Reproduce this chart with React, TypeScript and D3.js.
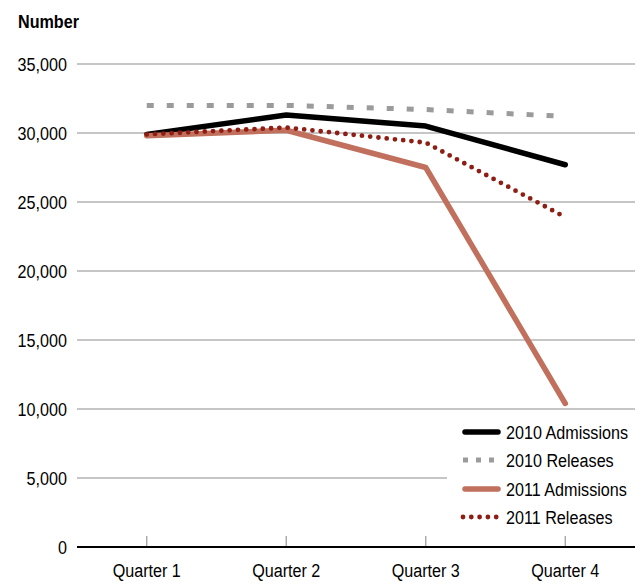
import React from "react";
import * as d3 from "d3";

const categories = ["Quarter 1", "Quarter 2", "Quarter 3", "Quarter 4"];
const admissions2010 = [29900, 31300, 30500, 27700];
const releases2010 = [32000, 32000, 31700, 31200];
const admissions2011 = [29800, 30200, 27500, 10400];
const releases2011 = [29900, 30400, 29300, 23900];
const yTicks = [0, 5000, 10000, 15000, 20000, 25000, 30000, 35000];

const W = 642;
const H = 584;
const FONT = "'Liberation Sans', Arial, sans-serif";
const SX = 0.85;

type Series = { name: string; values: number[]; color: string; width: number; dash?: string; legendDash?: string; cap: "butt" | "round" };

const series: Series[] = [
  { name: "2010 Admissions", values: admissions2010, color: "#000000", width: 5.5, cap: "round" },
  { name: "2010 Releases", values: releases2010, color: "#9b9b9b", width: 5, dash: "7 13", legendDash: "5 8", cap: "butt" },
  { name: "2011 Admissions", values: admissions2011, color: "#c0705c", width: 5.5, cap: "round" },
  { name: "2011 Releases", values: releases2011, color: "#8e1d14", width: 4.8, dash: "0 8.3", legendDash: "0 8.3", cap: "round" },
];

function T({ x, y, anchor = "start", bold = false, size = 19, children }: { x: number; y: number; anchor?: "start" | "middle" | "end"; bold?: boolean; size?: number; children: React.ReactNode }) {
  return (
    <text
      transform={`translate(${x},${y}) scale(${SX},1)`}
      textAnchor={anchor}
      fontSize={size}
      fontWeight={bold ? "bold" : "normal"}
      fill="#000"
    >
      {children}
    </text>
  );
}

export default function App() {
  const x = d3.scaleBand<string>().domain(categories).range([77, 635]);
  const y = d3.scaleLinear().domain([0, 35000]).range([547, 64]);
  const cx = (c: string) => (x(c) ?? 0) + x.bandwidth() / 2;
  const fmt = d3.format(",");
  const line = d3
    .line<number>()
    .x((_, i) => cx(categories[i]))
    .y((d) => y(d));

  const legendX = 463;
  const legendY = [432, 460, 489, 517];

  return (
    <svg width={W} height={H} style={{ position: "absolute", left: 0, top: 0, background: "#fff" }} fontFamily={FONT}>
      <T x={18} y={28} bold>Number</T>
      {yTicks.map((t) => (
        <g key={t}>
          {t > 0 && <line x1={77} x2={635} y1={y(t)} y2={y(t)} stroke="#b3b3b3" strokeWidth={1.3} />}
          <T x={67} y={y(t) + 7} anchor="end">{fmt(t)}</T>
        </g>
      ))}
      {categories.map((c) => (
        <g key={c}>
          <line x1={cx(c)} x2={cx(c)} y1={536} y2={547} stroke="#999" strokeWidth={1.2} />
          <T x={cx(c)} y={577} anchor="middle">{c}</T>
        </g>
      ))}
      {series.map((s) => (
        <path
          key={s.name}
          d={line(s.values) ?? ""}
          fill="none"
          stroke={s.color}
          strokeWidth={s.width}
          strokeDasharray={s.dash}
          strokeLinecap={s.cap}
          strokeLinejoin="round"
        />
      ))}
      <line x1={77} x2={635} y1={y(0)} y2={y(0)} stroke="#000" strokeWidth={2.2} />
      <rect x={447} y={418} width={190} height={115} fill="#fff" />
      {series.map((s, i) => (
        <g key={s.name}>
          <line
            x1={legendX + (s.cap === "round" && !s.dash ? 2 : 0)}
            x2={legendX + 35}
            y1={legendY[i]}
            y2={legendY[i]}
            stroke={s.color}
            strokeWidth={s.width}
            strokeDasharray={s.legendDash}
            strokeLinecap={s.cap}
          />
          <T x={legendX + 43} y={legendY[i] + 7}>{s.name}</T>
        </g>
      ))}
    </svg>
  );
}
